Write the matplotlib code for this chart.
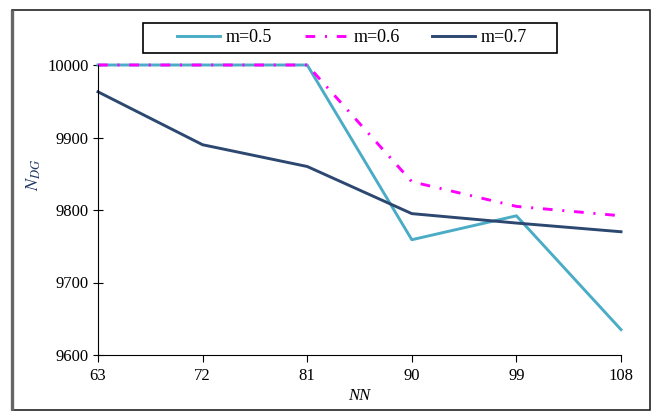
import matplotlib
matplotlib.use("Agg")
import matplotlib.pyplot as plt
from matplotlib.patches import Rectangle

# ── Data ──────────────────────────────────────────────────────────────────── #
nn = [63, 72, 81, 90, 99, 108]
ndg_m05 = [10000, 10000, 10000, 9759, 9792, 9635]
ndg_m06 = [10000, 10000, 10000, 9839, 9805, 9792]
ndg_m07 = [9963, 9890, 9860, 9795, 9782, 9770]
y_ticks = [9600, 9700, 9800, 9900, 10000]

plt.rcParams["font.family"] = ["Liberation Serif", "DejaVu Serif"]
plt.rcParams["mathtext.fontset"] = "stix"
plt.rcParams["lines.scale_dashes"] = False

W, H = 662, 418
fig = plt.figure(figsize=(W / 100, H / 100), dpi=100)

# outer frame (black, with a grey left edge like the source)
fig.patches.append(Rectangle((12 / W, (H - 410) / H), (650 - 12) / W, (410 - 10) / H,
                             transform=fig.transFigure, fill=False,
                             edgecolor="#111111", linewidth=1.1))
fig.patches.append(Rectangle((12 / W, (H - 410) / H), 0, (410 - 10) / H,
                             transform=fig.transFigure, fill=False,
                             edgecolor="#666666", linewidth=2.4))

ax = fig.add_axes([98 / W, (H - 355) / H, (621 - 98) / W, (355 - 65) / H])

ax.plot(nn, ndg_m05, color="#4BACC6", lw=2.1, label="m=0.5", clip_on=False)
ax.plot(nn, ndg_m06, color="#FF00FF", lw=2.1, dashes=(7, 7, 1.5, 7), label="m=0.6", clip_on=False)
ax.plot(nn, ndg_m07, color="#2C4770", lw=2.1, label="m=0.7", clip_on=False)

ax.set_xlim(63, 108)
ax.set_ylim(9600, 10000)
ax.set_xticks(nn)
ax.set_yticks(y_ticks)
for s in ["top", "right"]:
    ax.spines[s].set_visible(False)
ax.tick_params(axis="y", direction="inout", length=7, labelsize=12, pad=3)
ax.tick_params(axis="x", direction="out", length=5, labelsize=12, pad=4)

ax.set_xlabel("NN", fontsize=12, style="italic", labelpad=3)
ax.set_ylabel("$N_{DG}$", fontsize=13, color="#1F3864")
ax.yaxis.set_label_coords(-0.105, 0.62)

# legend box drawn separately so its size matches the source
fig.patches.append(Rectangle((143 / W, (H - 53) / H), (557 - 143) / W, 30 / H,
                             transform=fig.transFigure, fill=True, facecolor="white",
                             edgecolor="black", linewidth=1.2, zorder=5))
leg = fig.legend(loc="center", bbox_to_anchor=(352 / W, (H - 38) / H), ncol=3,
                 frameon=False, fontsize=13, handlelength=2.4,
                 handletextpad=0.3, columnspacing=1.8)
leg.set_zorder(6)

plt.savefig("out.png", dpi=100)
